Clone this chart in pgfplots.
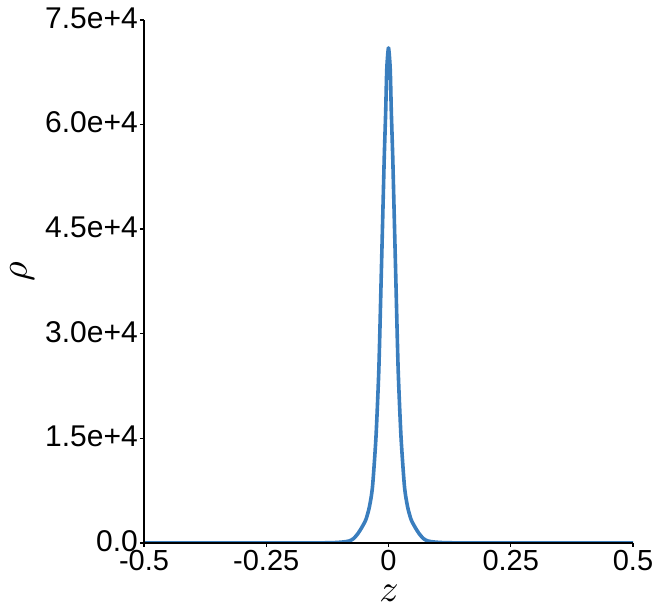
\documentclass[border=0pt]{standalone}
\usepackage{graphicx}
\usepackage{fontspec}
\setmainfont{Liberation Sans}
\usepackage{pgfplots}
\pgfplotsset{compat=1.18}
\definecolor{curveblue}{RGB}{58,126,190}
\begin{document}
\begin{tikzpicture}
\useasboundingbox (-144pt,-69pt) rectangle (509pt,543pt);
\begin{axis}[
  at={(0pt,0pt)}, anchor=south west,
  scale only axis, width=489pt, height=523pt,
  xmin=-0.5, xmax=0.5, ymin=0, ymax=75000,
  axis x line*=bottom, axis y line*=left,
  axis line style={black, line width=1.6pt, -},
  axis on top,
  tick align=outside,
  major tick length=4pt,
  tick style={black, line width=1.4pt},
  xtick={-0.5,-0.25,0,0.25,0.5},
  xticklabels={-0.5,-0.25,0,0.25,0.5},
  ytick={0,15000,30000,45000,60000,75000},
  yticklabels={0.0,1.5e+4,3.0e+4,4.5e+4,6.0e+4,7.5e+4},
  xticklabel style={font=\fontsize{29}{34}\selectfont, inner sep=3pt},
  yticklabel style={font=\fontsize{30}{36}\selectfont, inner sep=2pt, yshift=2pt},
  scaled y ticks=false,
  xlabel={\scalebox{3.8}{$z$}},
  ylabel={\scalebox{3.8}{$\rho$}},
  xlabel style={inner sep=0pt, at={(axis description cs:0.501,-0.096)}, anchor=center},
  ylabel style={inner sep=0pt, at={(axis description cs:-0.249,0.518)}, anchor=center},
]
\addplot[curveblue, line width=3.6pt, line join=round, smooth, tension=0.4] coordinates {
(-0.5,0) (-0.25,0) (-0.15,12) (-0.11,60) (-0.09,170) (-0.08,300) (-0.072,600)
(-0.063,1300) (-0.054,2300) (-0.046,3400) (-0.039,5200) (-0.0327,8070)
(-0.0256,15200) (-0.0198,24800) (-0.0153,37000) (-0.0109,49200)
(-0.0086,55500) (-0.0057,62000) (-0.0035,68000) (0,71000)
(0.0035,68000) (0.0057,62000) (0.0086,55500) (0.0109,49200)
(0.0153,37000) (0.0198,24800) (0.0256,15200) (0.0327,8070)
(0.039,5200) (0.046,3400) (0.054,2300) (0.063,1300) (0.072,600) (0.08,300)
(0.09,170) (0.11,60) (0.15,12) (0.25,0) (0.5,0)
};
\end{axis}
\end{tikzpicture}
\end{document}
